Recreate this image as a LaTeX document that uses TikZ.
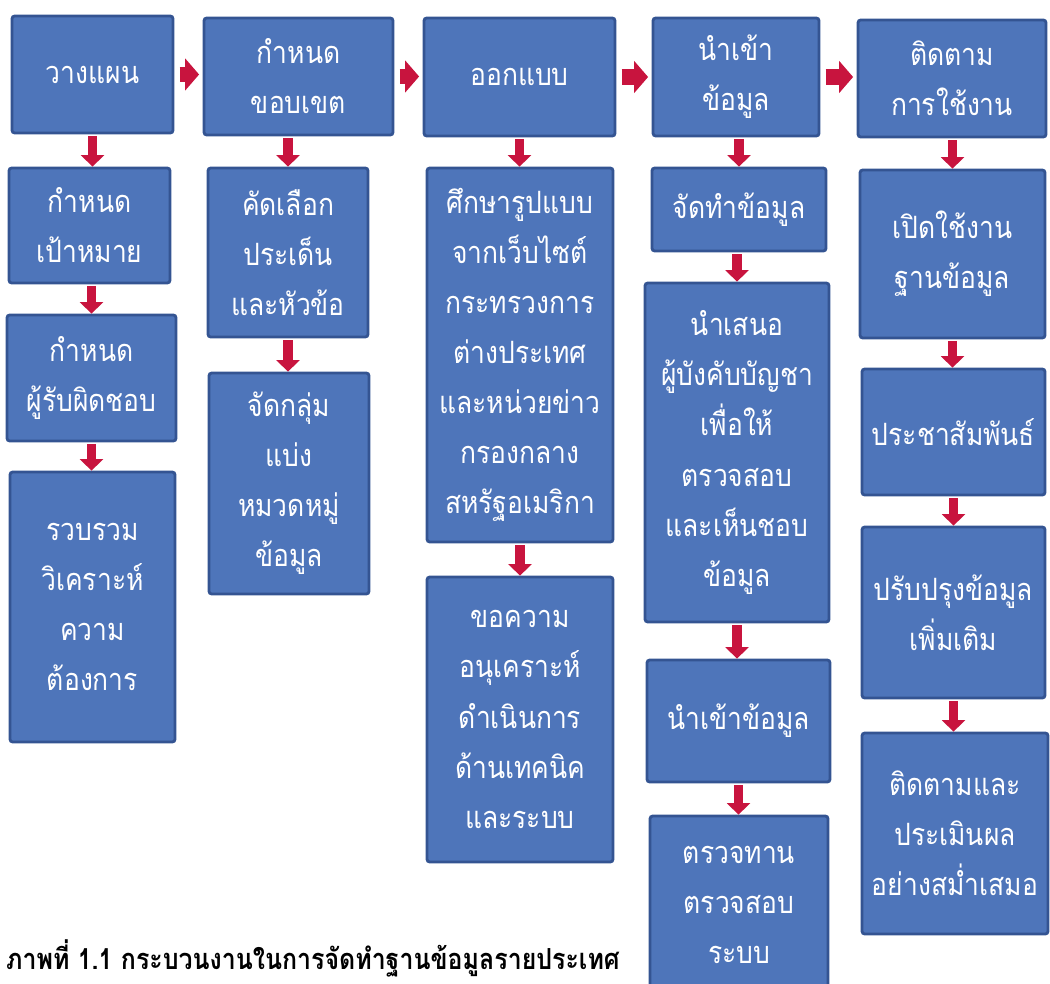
\documentclass[tikz,border=0pt]{standalone}
\usepackage{fontspec}
\newfontfamily\thaifont[Script=Thai, FakeStretch=0.86]{Loma}
\usetikzlibrary{positioning}
\usetikzlibrary{arrows.meta}
\definecolor{boxblue}{RGB}{78,117,186}
\definecolor{boxline}{RGB}{52,84,146}
\definecolor{arrowred}{RGB}{200,20,62}
\tikzset{
    stepnode/.style = {rectangle, rounded corners=1.5pt, line width=1.6pt, draw=boxline, fill=boxblue, align=center, text=white, font=\thaifont\fontsize{17.5}{28.5}\selectfont, inner sep=2pt},
    edgev/.style = {line width=5.5pt, arrowred, -{Triangle[width=13pt,length=6.5pt]}, shorten <=1pt},
    edgeh/.style = {line width=9pt, arrowred, -{Triangle[width=18pt,length=8pt]}, shorten <=3pt, shorten >=2pt},
}

\begin{document}
\begin{tikzpicture}[x=0.02cm, y=-0.02cm]
\useasboundingbox (0,0) rectangle (1050,983);

% column 1
\node[stepnode, minimum width=3.22cm, minimum height=2.34cm] at ( 92.5,  74.5) (A1) {วางแผน};
\node[stepnode, minimum width=3.22cm, minimum height=2.30cm] at ( 89.5, 225.5) (A2) {กำหนด\\เป้าหมาย};
\node[stepnode, minimum width=3.38cm, minimum height=2.52cm] at ( 91.5, 378.0) (A3) {กำหนด\\ผู้รับผิดชอบ};
\node[stepnode, minimum width=3.30cm, minimum height=5.40cm] at ( 92.5, 607.0) (A4) {รวบรวม\\วิเคราะห์\\ความ\\ต้องการ};

% column 2
\node[stepnode, minimum width=3.78cm, minimum height=2.34cm] at (298.5,  76.5) (B1) {กำหนด\\ขอบเขต};
\node[stepnode, minimum width=3.20cm, minimum height=3.38cm] at (288.0, 252.5) (B2) {คัดเลือก\\ประเด็น\\และหัวข้อ};
\node[stepnode, minimum width=3.20cm, minimum height=4.42cm] at (289.0, 483.5) (B3) {จัดกลุ่ม\\แบ่ง\\หมวดหมู่\\ข้อมูล};

% column 3
\node[stepnode, minimum width=3.82cm, minimum height=2.36cm] at (519.5,  77.0) (C1) {ออกแบบ};
\node[stepnode, minimum width=3.72cm, minimum height=7.48cm] at (520.0, 355.0) (C2) {ศึกษารูปแบบ\\จากเว็บไซต์\\กระทรวงการ\\ต่างประเทศ\\และหน่วยข่าว\\กรองกลาง\\สหรัฐอเมริกา};
\node[stepnode, minimum width=3.72cm, minimum height=5.70cm] at (520.0, 719.5) (C3) {ขอความ\\อนุเคราะห์\\ดำเนินการ\\ด้านเทคนิค\\และระบบ};

% column 4
\node[stepnode, minimum width=3.32cm, minimum height=2.36cm] at (736.0,  77.0) (D1) {นำเข้า\\ข้อมูล};
\node[stepnode, minimum width=3.48cm, minimum height=1.66cm] at (739.0, 209.5) (D2) {จัดทำข้อมูล};
\node[stepnode, minimum width=3.68cm, minimum height=6.78cm] at (737.0, 452.5) (D3) {นำเสนอ\\ผู้บังคับบัญชา\\เพื่อให้\\ตรวจสอบ\\และเห็นชอบ\\ข้อมูล};
\node[stepnode, minimum width=3.66cm, minimum height=2.44cm] at (738.5, 721.0) (D4) {นำเข้าข้อมูล};
\node[stepnode, minimum width=3.56cm, minimum height=3.56cm] at (739.0, 905.0) (D5) {ตรวจทาน\\ตรวจสอบ\\ระบบ};

% column 5
\node[stepnode, minimum width=3.76cm, minimum height=2.34cm] at (952.0,  78.5) (E1) {ติดตาม\\การใช้งาน};
\node[stepnode, minimum width=3.70cm, minimum height=3.36cm] at (952.5, 254.0) (E2) {เปิดใช้งาน\\ฐานข้อมูล};
\node[stepnode, minimum width=3.66cm, minimum height=2.52cm] at (953.5, 432.0) (E3) {ประชาสัมพันธ์};
\node[stepnode, minimum width=3.66cm, minimum height=3.42cm] at (953.5, 612.5) (E4) {ปรับปรุงข้อมูล\\เพิ่มเติม};
\node[stepnode, minimum width=3.72cm, minimum height=4.02cm] at (955.0, 833.5) (E5) {ติดตามและ\\ประเมินผล\\อย่างสม่ำเสมอ};

\node[anchor=west, font=\thaifont\bfseries\fontsize{16.5}{18}\selectfont] at (0, 958) (caption) {ภาพที่ 1.1 กระบวนงานในการจัดทำฐานข้อมูลรายประเทศ};

% top row
\draw[edgeh] (A1.east) -- (A1.east -| B1.west);
\draw[edgeh] (B1.east) -- (B1.east -| C1.west);
\draw[edgeh] (C1.east) -- (C1.east -| D1.west);
\draw[edgeh] (D1.east) -- (D1.east -| E1.west);

% down the columns
\draw[edgev] (A1.south) -- (A1.south |- A2.north);
\draw[edgev] (A2.south -| A3.north) -- (A3.north);
\draw[edgev] (A3.south) -- (A3.south |- A4.north);
\draw[edgev] (B1.south -| B2.north) -- (B2.north);
\draw[edgev] (B2.south) -- (B2.south |- B3.north);
\draw[edgev] (C1.south) -- (C1.south |- C2.north);
\draw[edgev] (C2.south) -- (C2.south |- C3.north);
\draw[edgev] (D1.south -| D2.north) -- (D2.north);
\draw[edgev] (D2.south -| D3.north) -- (D3.north);
\draw[edgev] (D3.south) -- (D3.south |- D4.north);
\draw[edgev] (D4.south) -- (D4.south |- D5.north);
\draw[edgev] (E1.south -| E2.north) -- (E2.north);
\draw[edgev] (E2.south) -- (E2.south |- E3.north);
\draw[edgev] (E3.south) -- (E3.south |- E4.north);
\draw[edgev] (E4.south) -- (E4.south |- E5.north);

\end{tikzpicture}
\end{document}
